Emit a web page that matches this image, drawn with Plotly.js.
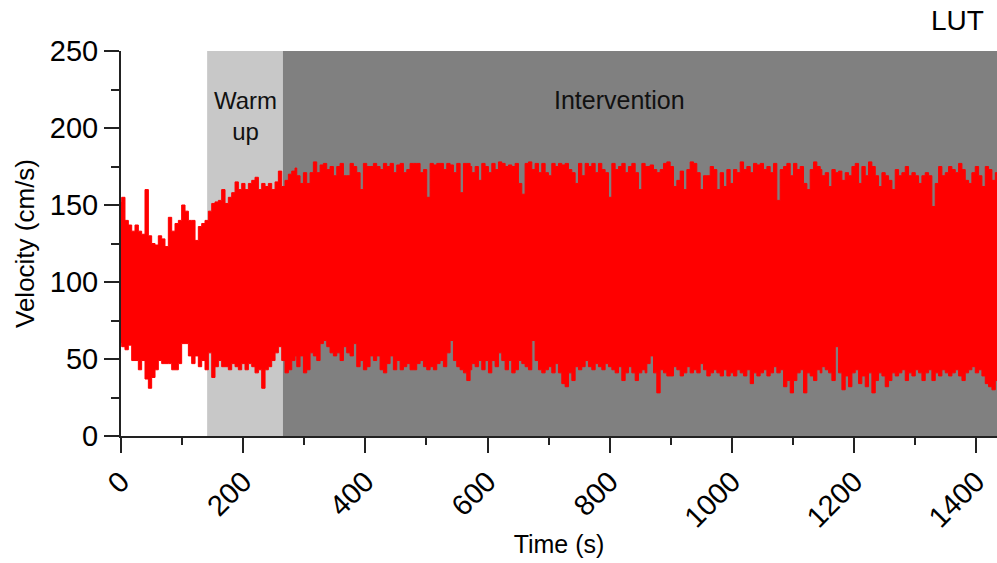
<!DOCTYPE html>
<html>
<head>
<meta charset="utf-8">
<script src="https://cdn.plot.ly/plotly-3.0.1.min.js"></script>
<style>html,body{margin:0;padding:0;background:#fff;}#chart{width:997px;height:563px;}</style>
</head>
<body>
<div id="chart"></div>
<script>
// Time (s) at which the envelope of the velocity trace was read
const timeS = [0,
1.1,6.5,12.0,17.5,22.9,28.4,33.8,39.3,44.8,50.2,55.7,61.1,66.6,72.0,77.5,83.0,88.4,93.9,99.3,104.8,110.3,115.7,121.2,126.6,132.1,137.5,143.0,148.5,153.9,159.4,164.8,170.3,175.7,181.2,186.7,192.1,197.6,203.0,208.5,214.0,219.4,224.9,230.3,235.8,241.2,246.7,252.2,257.6,263.1,268.5,274.0,279.5,284.9,
287.7,293.1,298.6,304.0,309.5,314.9,320.4,325.9,331.3,336.8,342.2,347.7,353.2,358.6,364.1,369.5,375.0,380.4,385.9,391.4,396.8,402.3,407.7,413.2,418.6,424.1,429.6,435.0,440.5,445.9,451.4,456.9,462.3,467.8,473.2,478.7,484.1,489.6,495.1,500.5,506.0,511.4,516.9,522.3,527.8,533.3,538.7,544.2,549.6,555.1,560.6,566.0,571.5,
574.2,579.7,585.1,590.6,596.0,601.5,607.0,612.4,617.9,623.3,628.8,634.3,639.7,645.2,650.6,656.1,661.5,667.0,672.5,677.9,683.4,688.8,694.3,699.7,705.2,710.7,716.1,721.6,727.0,732.5,738.0,743.4,748.9,754.3,759.8,765.2,770.7,776.2,781.6,787.1,792.5,798.0,803.5,808.9,814.4,819.8,825.3,830.7,836.2,841.7,847.1,852.6,858.0,
860.8,866.2,871.7,877.1,882.6,888.1,893.5,899.0,904.4,909.9,915.4,920.8,926.3,931.7,937.2,942.6,948.1,953.6,959.0,964.5,969.9,975.4,980.9,986.3,991.8,997.2,1002.7,1008.1,1013.6,1019.1,1024.5,1030.0,1035.4,1040.9,1046.3,1051.8,1057.3,1062.7,1068.2,1073.6,1079.1,1084.6,1090.0,1095.5,1100.9,1106.4,1111.8,1117.3,1122.8,1128.2,1133.7,1139.1,1144.6,
1147.3,1152.8,1158.3,1163.7,1169.2,1174.6,1180.1,1185.5,1191.0,1196.5,1201.9,1207.4,1212.8,1218.3,1223.7,1229.2,1234.7,1240.1,1245.6,1251.0,1256.5,1262.0,1267.4,1272.9,1278.3,1283.8,1289.2,1294.7,1300.2,1305.6,1311.1,1316.5,1322.0,1327.4,1332.9,1338.4,1343.8,1349.3,1354.7,1360.2,1365.7,1371.1,1376.6,1382.0,1387.5,1392.9,1398.4,1403.9,1409.3,1414.8,1420.2,1425.7,1431.2,
1434];

// Peak (systolic) velocity envelope, cm/s
const peakVel = [152,
155,140,137,133,137,133,131,160,130,125,124,130,128,123,142,133,138,140,150,146,140,140,127,136,138,140,146,151,152,153,160,151,155,158,165,160,164,160,164,166,168,160,164,162,164,160,165,172,162,166,170,172,174,
169,164,171,164,171,178,171,176,177,173,175,169,175,177,169,169,177,175,171,160,177,175,175,177,175,173,177,175,177,171,176,177,171,173,177,177,177,171,173,155,177,176,177,177,173,177,176,171,177,158,177,177,175,
171,175,166,177,175,171,177,173,178,177,175,176,175,177,164,157,177,178,173,177,171,177,171,169,177,175,177,176,177,173,171,164,177,169,177,175,177,171,177,173,171,155,177,173,175,177,171,175,177,171,160,177,175,
175,176,173,171,173,177,178,175,162,166,172,160,173,178,177,171,160,169,169,175,173,160,171,162,173,164,173,171,178,173,175,171,177,176,177,173,175,171,177,153,173,175,177,169,177,173,175,164,160,173,178,175,173,
169,171,162,173,171,172,166,171,169,175,177,164,175,169,178,175,169,162,171,169,166,160,173,169,171,175,169,171,169,164,169,171,169,149,164,175,169,171,175,173,171,177,173,166,164,171,175,169,162,175,173,166,171,
168];

// Trough (diastolic) velocity envelope, cm/s
const troughVel = [60,
58,56,59,49,49,43,49,37,31,38,43,49,47,47,47,43,43,47,60,60,52,47,52,45,49,43,54,38,45,49,45,45,43,47,45,43,47,43,47,45,41,43,31,43,45,49,54,58,49,41,43,49,52,
45,52,41,43,54,52,49,60,62,58,54,52,54,49,58,54,52,60,45,49,43,45,52,49,52,43,41,47,52,43,49,43,45,47,43,43,47,49,45,43,45,43,47,49,45,54,62,49,45,43,41,36,43,
47,45,49,43,49,41,49,45,54,49,43,49,41,43,49,47,45,43,62,49,43,41,43,45,41,47,41,34,32,41,36,45,43,45,49,45,43,47,45,43,47,45,43,41,45,36,41,45,41,36,41,43,41,
47,52,41,28,43,41,39,39,45,43,39,41,45,41,43,41,47,43,39,41,43,41,39,43,39,41,39,43,41,39,43,34,41,39,41,43,39,41,45,41,43,32,36,28,36,41,43,28,41,39,36,43,41,
45,43,41,36,58,41,30,39,32,41,43,34,39,32,41,28,36,41,39,32,36,41,39,41,43,36,41,39,43,41,36,41,43,36,41,39,43,41,39,41,43,39,36,41,43,45,41,43,39,34,32,30,36,
38];

// Protocol phases
const phaseNames = ['Warm<br>up', 'Intervention'];
const phaseStart = [141, 265];
const phaseEnd = [265, 1434];
const phaseColors = ['#c8c8c8', '#808080'];

const xTicks = [0, 200, 400, 600, 800, 1000, 1200, 1400];
const yTicks = [0, 50, 100, 150, 200, 250];

const FONT = 'Liberation Sans, Arial, Helvetica, sans-serif';
const AX = '#222222';

const traces = [
  {x: timeS, y: troughVel, type: 'scatter', mode: 'lines',
   line: {color: '#ff0000', width: 1, shape: 'hv'}, hoverinfo: 'skip', showlegend: false},
  {x: timeS, y: peakVel, type: 'scatter', mode: 'lines', fill: 'tonexty',
   fillcolor: '#ff0000', line: {color: '#ff0000', width: 1, shape: 'hv'}, hoverinfo: 'skip', showlegend: false}
];

const shapes = phaseStart.map((s, i) => ({
  type: 'rect', xref: 'x', yref: 'y', x0: s, x1: phaseEnd[i], y0: 0, y1: 250,
  fillcolor: phaseColors[i], line: {width: 0}, layer: 'below'
}));

const annotations = [
  {text: phaseNames[0], x: (phaseStart[0] + phaseEnd[0]) / 2, y: 208, xref: 'x', yref: 'y',
   showarrow: false, font: {family: FONT, size: 24, color: '#111'}, align: 'center'},
  {text: phaseNames[1], x: 816, y: 218, xref: 'x', yref: 'y',
   showarrow: false, font: {family: FONT, size: 25, color: '#111'}},
  {text: 'LUT', x: 0.988, y: 1.078, xref: 'paper', yref: 'paper', xanchor: 'right', yanchor: 'middle',
   showarrow: false, font: {family: FONT, size: 28, color: '#000'}}
];

const layout = {
  width: 997, height: 563,
  margin: {l: 121, r: 0, t: 51, b: 127, pad: 0},
  paper_bgcolor: '#ffffff', plot_bgcolor: '#ffffff',
  font: {family: FONT, color: '#000'},
  showlegend: false,
  xaxis: {
    range: [0, 1434], tickvals: xTicks, ticktext: xTicks.map(String), tickangle: -45,
    ticks: 'outside', ticklen: 15, tickwidth: 2, tickcolor: AX,
    minor: {dtick: 100, tick0: 0, ticks: 'outside', ticklen: 7, tickwidth: 2, tickcolor: AX, showgrid: false},
    showline: true, linewidth: 2, linecolor: AX, showgrid: false, zeroline: false,
    tickfont: {family: FONT, size: 29, color: '#000'},
    title: {text: 'Time (s)', font: {family: FONT, size: 25, color: '#000'}, standoff: 3},
    automargin: false, fixedrange: true
  },
  yaxis: {
    range: [0, 250], tickvals: yTicks, ticktext: yTicks.map(String),
    ticks: 'outside', ticklen: 15, tickwidth: 2, tickcolor: AX,
    minor: {dtick: 25, tick0: 0, ticks: 'outside', ticklen: 8, tickwidth: 2, tickcolor: AX, showgrid: false},
    showline: true, linewidth: 2, linecolor: AX, showgrid: false, zeroline: false,
    tickfont: {family: FONT, size: 29, color: '#000'},
    title: {text: 'Velocity (cm/s)', font: {family: FONT, size: 26, color: '#000'}, standoff: 8},
    automargin: false, fixedrange: true
  },
  shapes: shapes,
  annotations: annotations
};

Plotly.newPlot('chart', traces, layout, {displayModeBar: false, staticPlot: true});
</script>
</body>
</html>
